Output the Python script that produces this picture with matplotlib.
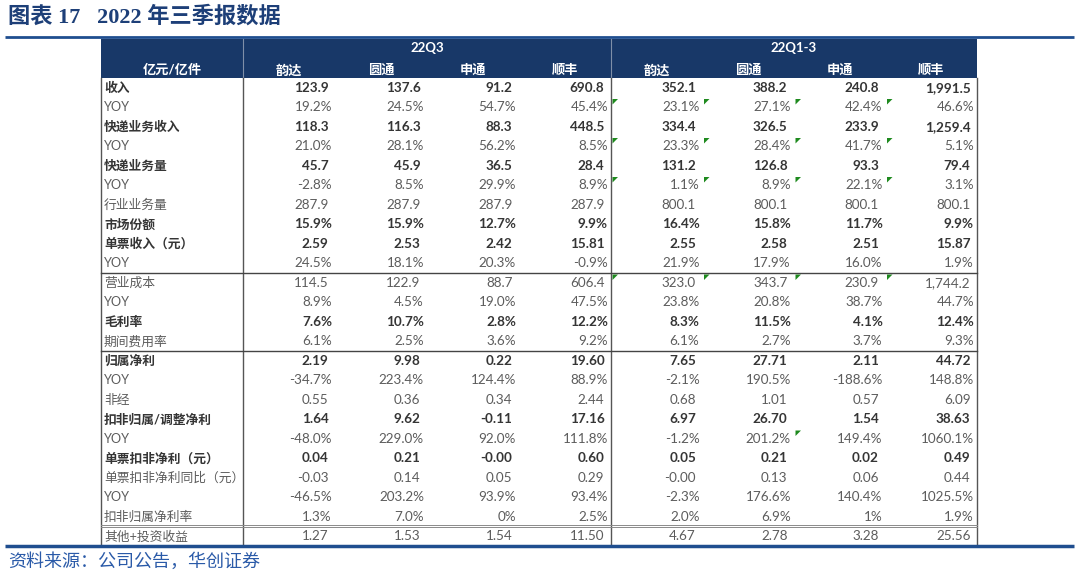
#!/usr/bin/env python3
"""
Recreate the 2022 Q3 express-delivery results table as a matplotlib figure.
"""

import matplotlib
matplotlib.use("Agg")
import matplotlib.pyplot as plt
from matplotlib.patches import Rectangle, Polygon


plt.rcParams["font.family"] = ["Lato", "Noto Sans CJK SC", "DejaVu Sans"]

TITLE = "图表 17   2022 年三季报数据"
SOURCE = "资料来源：公司公告，华创证券"
CORNER = "亿元/亿件"
GROUPS = ["22Q3", "22Q1-3"]
COMPANIES = ["韵达", "圆通", "申通", "顺丰"]

ROW_LABELS = [
    "收入", "YOY", "快递业务收入", "YOY", "快递业务量", "YOY", "行业业务量",
    "市场份额", "单票收入（元）", "YOY", "营业成本", "YOY", "毛利率", "期间费用率",
    "归属净利", "YOY", "非经", "扣非归属/调整净利", "YOY", "单票扣非净利（元）",
    "单票扣非净利同比（元）", "YOY", "扣非归属净利率", "其他+投资收益",
]
BOLD_ROWS = [0, 2, 4, 7, 8, 12, 14, 17, 19]

Q3_VALUES = [
    ["123.9", "137.6", "91.2", "690.8"],
    ["19.2%", "24.5%", "54.7%", "45.4%"],
    ["118.3", "116.3", "88.3", "448.5"],
    ["21.0%", "28.1%", "56.2%", "8.5%"],
    ["45.7", "45.9", "36.5", "28.4"],
    ["-2.8%", "8.5%", "29.9%", "8.9%"],
    ["287.9", "287.9", "287.9", "287.9"],
    ["15.9%", "15.9%", "12.7%", "9.9%"],
    ["2.59", "2.53", "2.42", "15.81"],
    ["24.5%", "18.1%", "20.3%", "-0.9%"],
    ["114.5", "122.9", "88.7", "606.4"],
    ["8.9%", "4.5%", "19.0%", "47.5%"],
    ["7.6%", "10.7%", "2.8%", "12.2%"],
    ["6.1%", "2.5%", "3.6%", "9.2%"],
    ["2.19", "9.98", "0.22", "19.60"],
    ["-34.7%", "223.4%", "124.4%", "88.9%"],
    ["0.55", "0.36", "0.34", "2.44"],
    ["1.64", "9.62", "-0.11", "17.16"],
    ["-48.0%", "229.0%", "92.0%", "111.8%"],
    ["0.04", "0.21", "-0.00", "0.60"],
    ["-0.03", "0.14", "0.05", "0.29"],
    ["-46.5%", "203.2%", "93.9%", "93.4%"],
    ["1.3%", "7.0%", "0%", "2.5%"],
    ["1.27", "1.53", "1.54", "11.50"],
]

YTD_VALUES = [
    ["352.1", "388.2", "240.8", "1,991.5"],
    ["23.1%", "27.1%", "42.4%", "46.6%"],
    ["334.4", "326.5", "233.9", "1,259.4"],
    ["23.3%", "28.4%", "41.7%", "5.1%"],
    ["131.2", "126.8", "93.3", "79.4"],
    ["1.1%", "8.9%", "22.1%", "3.1%"],
    ["800.1", "800.1", "800.1", "800.1"],
    ["16.4%", "15.8%", "11.7%", "9.9%"],
    ["2.55", "2.58", "2.51", "15.87"],
    ["21.9%", "17.9%", "16.0%", "1.9%"],
    ["323.0", "343.7", "230.9", "1,744.2"],
    ["23.8%", "20.8%", "38.7%", "44.7%"],
    ["8.3%", "11.5%", "4.1%", "12.4%"],
    ["6.1%", "2.7%", "3.7%", "9.3%"],
    ["7.65", "27.71", "2.11", "44.72"],
    ["-2.1%", "190.5%", "-188.6%", "148.8%"],
    ["0.68", "1.01", "0.57", "6.09"],
    ["6.97", "26.70", "1.54", "38.63"],
    ["-1.2%", "201.2%", "149.4%", "1060.1%"],
    ["0.05", "0.21", "0.02", "0.49"],
    ["-0.00", "0.13", "0.06", "0.44"],
    ["-2.3%", "176.6%", "140.4%", "1025.5%"],
    ["2.0%", "6.9%", "1%", "1.9%"],
    ["4.67", "2.78", "3.28", "25.56"],
]

# Excel "number stored as text" markers: (row, group, column)
FLAG_CELLS = [
    (1, 1, 0), (1, 1, 1), (1, 1, 2), (1, 1, 3),
    (3, 1, 0), (3, 1, 1), (3, 1, 2), (3, 1, 3),
    (5, 1, 0), (5, 1, 1), (5, 1, 2), (5, 1, 3),
    (10, 1, 0), (10, 1, 1), (10, 1, 2), (10, 1, 3),
    (18, 1, 2),
]

# layout, in pixels
W, H = 1080, 580
X_LEFT, X_LABEL, X_RIGHT = 101, 243, 977
X_GROUP = [243, 611]
CELL_W = [92.0, 91.5]
Y_HEAD_TOP, Y_HEAD_BOT = 39, 78
ROW_H = 19.5

NAVY = "#183868"
BLUE = "#1f4e8f"
DARK = "#353535"
GREY = "#5c5c5c"


def row_y(i):
    return Y_HEAD_BOT + ROW_H * i


def main():
    fig = plt.figure(figsize=(W / 100, H / 100), dpi=100)
    ax = fig.add_axes([0, 0, 1, 1])
    ax.set_xlim(0, W)
    ax.set_ylim(H, 0)
    ax.axis("off")

    # title and rules
    ax.text(8, 17, TITLE, fontsize=16, fontweight="bold", color="#1d3f78",
            va="center", ha="left", family=["Liberation Serif", "Noto Sans CJK SC"])
    ax.plot([5, 1074], [37, 37], color=BLUE, lw=2.0, solid_capstyle="butt")

    n_rows = len(ROW_LABELS)
    y_bot = row_y(n_rows)

    # header block
    ax.add_patch(Rectangle((X_LEFT, Y_HEAD_TOP), X_RIGHT - X_LEFT, Y_HEAD_BOT - Y_HEAD_TOP,
                           facecolor=NAVY, edgecolor="none"))
    ax.text((X_LEFT + X_LABEL) / 2, 70, CORNER, color="white", fontsize=9.5,
            fontweight="bold", ha="center", va="center")
    for g, name in enumerate(GROUPS):
        x0 = X_GROUP[g]
        ax.text(x0 + CELL_W[g] * 2, 48.5, name, color="white", fontsize=9.5,
                fontweight="bold", ha="center", va="center")
        for c, comp in enumerate(COMPANIES):
            ax.text(x0 + CELL_W[g] * (c + 0.5), 70, comp, color="white", fontsize=9.5,
                    fontweight="bold", ha="center", va="center")

    # body text
    for i, label in enumerate(ROW_LABELS):
        bold = i in BOLD_ROWS
        yc = row_y(i) + ROW_H / 2
        col = DARK if bold else GREY
        fw = "bold" if bold else "normal"
        ax.text(X_LEFT + 3, yc, label, fontsize=9.2, fontweight=fw, color=col,
                ha="left", va="center")
        for g, values in enumerate([Q3_VALUES, YTD_VALUES]):
            for c, val in enumerate(values[i]):
                right = X_GROUP[g] + CELL_W[g] * (c + 1)
                pad = 3 if val.endswith("%") else 6.5
                ax.text(right - pad, yc, val, fontsize=9.7, fontweight=fw, color=col,
                        ha="right", va="center")

    # green corner flags
    for r, g, c in FLAG_CELLS:
        x0 = X_GROUP[g] + CELL_W[g] * c + 1.5
        y0 = row_y(r) + 1.5
        ax.add_patch(Polygon([[x0, y0], [x0 + 5.5, y0], [x0, y0 + 5.5]], closed=True,
                             facecolor="#1e8a1e", edgecolor="none"))

    # grid lines
    for x in [X_LABEL, X_GROUP[1]]:
        ax.plot([x, x], [Y_HEAD_TOP, Y_HEAD_BOT], color="#7f8fa8", lw=0.8)
    for x in [X_LEFT, X_LABEL, X_GROUP[1], X_RIGHT]:
        ax.plot([x, x], [Y_HEAD_BOT, y_bot], color="#555555", lw=1.0)
    for r in [10, 14]:
        ax.plot([X_LEFT, X_RIGHT], [row_y(r), row_y(r)], color="#444444", lw=1.0)
    y23 = row_y(23)
    ax.plot([X_LEFT, X_RIGHT], [y23 - 1.2, y23 - 1.2], color="#8a8a8a", lw=0.7)
    ax.plot([X_LEFT, X_RIGHT], [y23 + 0.6, y23 + 0.6], color="#8a8a8a", lw=0.7)
    ax.plot([5, 1074], [y_bot, y_bot], color=BLUE, lw=2.5, solid_capstyle="butt")

    ax.text(8, 562, SOURCE, fontsize=13, color="#2a5aa8", ha="left", va="center",
            style="italic", family=["Noto Sans CJK SC"])

    fig.savefig("out.png", dpi=100)
    plt.close(fig)


if __name__ == "__main__":
    main()
